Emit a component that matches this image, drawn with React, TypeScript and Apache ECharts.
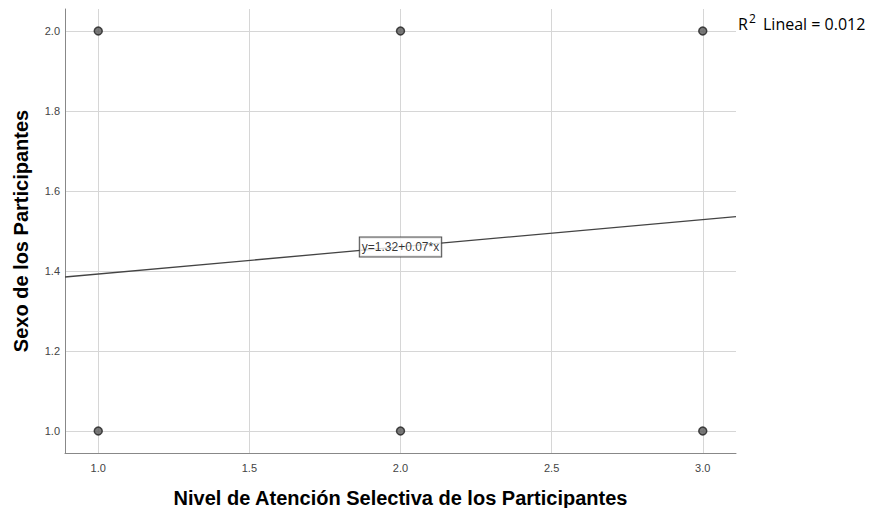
import React, { useEffect, useRef } from "react";
import * as echarts from "echarts";

const points: [number, number][] = [
  [1, 1], [1, 2], [2, 1], [2, 2], [3, 1], [3, 2],
];
const fitLineEnds: [number, number][] = [
  [0.89, 1.385],
  [3.11, 1.536],
];
const fitLabelPoint: [number, number][] = [[2.0, 1.46]];
const fitLabel = "y=1.32+0.07*x";
const xTicks = [1.0, 1.5, 2.0, 2.5, 3.0];
const yTicks = [1.0, 1.2, 1.4, 1.6, 1.8, 2.0];
const xTitle = "Nivel de Atención Selectiva de los Participantes";
const yTitle = "Sexo de los Participantes";
const r2Value = "0.012";

export default function App() {
  const ref = useRef<HTMLDivElement>(null);
  useEffect(() => {
    const chart = echarts.init(ref.current!, null, { renderer: "svg" });
    const font = "'Liberation Sans', Arial, sans-serif";
    const r2Font = "'Open Sans', sans-serif";
    chart.setOption({
      animation: false,
      backgroundColor: "#ffffff",
      grid: { left: 65, right: 136, top: 9, bottom: 55, outerBoundsMode: "none", containLabel: false },
      xAxis: {
        type: "value",
        min: 0.89,
        max: 3.11,
        name: xTitle,
        nameLocation: "middle",
        nameGap: 35,
        nameTextStyle: { fontFamily: font, fontSize: 20, fontWeight: "bold", color: "#000" },
        axisLine: { show: true, lineStyle: { color: "#888", width: 1 } },
        axisTick: { show: false, customValues: xTicks },
        axisLabel: {
          customValues: xTicks,
          formatter: (v: number) => v.toFixed(1),
          fontFamily: font, fontSize: 11, color: "#444", margin: 9,
        },
        splitLine: { show: true, lineStyle: { color: "#d6d6d6", width: 1 } },
      },
      yAxis: {
        type: "value",
        min: 0.945,
        max: 2.055,
        name: yTitle,
        nameLocation: "middle",
        nameGap: 34,
        nameTextStyle: { fontFamily: font, fontSize: 20, fontWeight: "bold", color: "#000" },
        axisLine: { show: true, lineStyle: { color: "#888", width: 1 } },
        axisTick: { show: false, customValues: yTicks },
        axisLabel: {
          customValues: yTicks,
          formatter: (v: number) => v.toFixed(1),
          fontFamily: font, fontSize: 11, color: "#444", margin: 5,
        },
        splitLine: { show: true, lineStyle: { color: "#d6d6d6", width: 1 } },
      },
      series: [
        {
          type: "line",
          data: fitLineEnds,
          symbol: "none",
          z: 2,
          lineStyle: { color: "#444", width: 1.3 },
          silent: true,
        },
        {
          type: "scatter",
          data: points,
          symbol: "circle",
          symbolSize: 8,
          z: 3,
          itemStyle: { color: "#5a5a5a", borderColor: "#222", borderWidth: 1.5 },
        },
        {
          type: "scatter",
          data: fitLabelPoint,
          symbolSize: 1,
          z: 10,
          zlevel: 1,
          itemStyle: { color: "rgba(0,0,0,0)" },
          label: {
            show: true,
            position: "inside",
            formatter: fitLabel,
            fontFamily: font,
            fontSize: 12,
            color: "#000",
            backgroundColor: "#ffffff",
            borderColor: "#222",
            borderWidth: 1,
            padding: [4, 2, 3, 2],
          },
        },
      ],
      graphic: [
        {
          type: "group",
          left: 738,
          top: 12,
          children: [
            { type: "text", x: 0, y: 4, style: { text: "R", fontFamily: r2Font, fontSize: 16, fill: "#000" } },
            { type: "text", x: 11, y: 0, style: { text: "2", fontFamily: r2Font, fontSize: 12, fill: "#000" } },
            { type: "text", x: 25, y: 4, style: { text: "Lineal = " + r2Value, fontFamily: r2Font, fontSize: 16, fill: "#000" } },
          ],
        },
      ],
    });
    return () => chart.dispose();
  }, []);
  return <div ref={ref} style={{ width: 872, height: 508, position: "absolute", left: 0, top: 0 }} />;
}
